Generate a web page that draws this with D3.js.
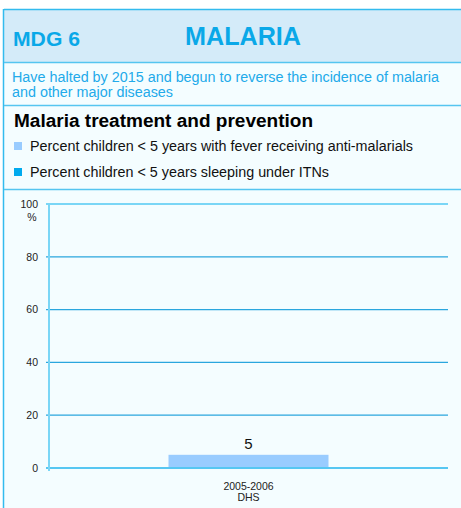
<!DOCTYPE html>
<html><head><meta charset="utf-8">
<script src="https://cdn.jsdelivr.net/npm/d3@7"></script>
<style>
html,body{margin:0;padding:0;background:#fff;}
svg{display:block;font-family:"Liberation Sans",Arial,sans-serif;}
</style></head><body>
<svg id="c" width="461" height="508"></svg>
<script>
const categories = ["2005-2006\nDHS"];
const antimalarials = [5];
const itns = [null];
const yTicks = [0, 20, 40, 60, 80, 100];
const legendLabels = ["Percent children < 5 years with fever receiving anti-malarials", "Percent children < 5 years sleeping under ITNs"];
const colors = ["#99ccff", "#00aaee"];

(function () {
const svg = d3.select("#c");
const W = 461, H = 508;
const border = "#33bbee";

function fit(sel, w) { sel.attr("textLength", w).attr("lengthAdjust", "spacingAndGlyphs"); return sel; }

svg.append("rect").attr("x", 4).attr("y", 9).attr("width", W).attr("height", H).attr("fill", "#f4fdff");
svg.append("rect").attr("x", 4).attr("y", 9).attr("width", W).attr("height", 53).attr("fill", "#d4ebf9");
svg.append("line").attr("x1", 4).attr("x2", W).attr("y1", 9.5).attr("y2", 9.5).attr("stroke", border).attr("stroke-width", 1.5);
svg.append("line").attr("x1", 3.5).attr("x2", 3.5).attr("y1", 9).attr("y2", H).attr("stroke", border).attr("stroke-width", 1.5);
[62.5, 105.5, 189.5].forEach(yy => svg.append("line").attr("x1", 4).attr("x2", W).attr("y1", yy).attr("y2", yy).attr("stroke", "#55c5f0").attr("stroke-width", 1.5));

const blue = "#0aa8e8";
fit(svg.append("text").attr("x", 13).attr("y", 46).attr("fill", blue).attr("font-weight", "bold").attr("font-size", 21).text("MDG 6"), 67);
fit(svg.append("text").attr("x", 185).attr("y", 45).attr("fill", blue).attr("font-weight", "bold").attr("font-size", 25).text("MALARIA"), 116);
fit(svg.append("text").attr("x", 12).attr("y", 82).attr("fill", "#22aaea").attr("font-size", 14).text("Have halted by 2015 and begun to reverse the incidence of malaria"), 427);
fit(svg.append("text").attr("x", 12).attr("y", 97).attr("fill", "#22aaea").attr("font-size", 14).text("and other major diseases"), 161);
fit(svg.append("text").attr("x", 14).attr("y", 127).attr("fill", "#000").attr("font-weight", "bold").attr("font-size", 18).text("Malaria treatment and prevention"), 299);

const lg = svg.append("g");
const legendW = [383, 299];
legendLabels.forEach((t, i) => {
  const yy = 142 + i * 26;
  lg.append("rect").attr("x", 14).attr("y", yy).attr("width", 8).attr("height", 8).attr("fill", colors[i]);
  fit(lg.append("text").attr("x", 30).attr("y", yy + 9).attr("font-size", 14).attr("fill", "#111").text(t), legendW[i]);
});

const pL = 49, pR = 448, pT = 204, pB = 468;
const y = d3.scaleLinear().domain([0, 100]).range([pB, pT]);
const x = d3.scaleBand().domain(categories).range([pL, pR]).paddingInner(0).paddingOuter(0);

const g = svg.append("g");
yTicks.forEach(t => {
  const lineColor = t === 100 ? "#7ad6f6" : (t === 0 ? "#22b4ee" : "#2aa6de");
  const sw = t === 100 ? 2 : 1.3;
  g.append("line").attr("x1", pL - 3).attr("x2", pR).attr("y1", y(t)).attr("y2", y(t)).attr("stroke", lineColor).attr("stroke-width", sw);
});
g.append("line").attr("x1", pL).attr("x2", pL).attr("y1", pT - 1).attr("y2", pB + 3).attr("stroke", "#7ad6f6").attr("stroke-width", 2);

const yAxis = d3.axisLeft(y).tickValues(yTicks).tickSize(0).tickPadding(0);
const ya = g.append("g").attr("transform", `translate(${pL - 11},0)`).call(yAxis);
ya.select(".domain").remove();
ya.selectAll("text").attr("font-size", 10.5).attr("fill", "#222").attr("font-family", "\"Liberation Sans\",Arial,sans-serif");
g.append("text").attr("x", 32).attr("y", 221).attr("text-anchor", "middle").attr("font-size", 10.5).attr("fill", "#222").text("%");

const bw = 160;
categories.forEach((c, i) => {
  const cx = x(c) + x.bandwidth() / 2;
  if (antimalarials[i] != null) {
    g.append("rect").attr("x", cx - bw / 2).attr("width", bw).attr("y", y(antimalarials[i])).attr("height", y(0) - y(antimalarials[i]) - 1).attr("fill", colors[0]);
    g.append("text").attr("x", cx).attr("y", y(antimalarials[i]) - 6).attr("text-anchor", "middle").attr("font-size", 15).attr("fill", "#111").text(antimalarials[i]);
  }
  c.split("\n").forEach((ln, j) => {
    g.append("text").attr("x", cx).attr("y", 490 + j * 11).attr("text-anchor", "middle").attr("font-size", 10.5).attr("fill", "#222").text(ln);
  });
});
})();
</script>
</body></html>
